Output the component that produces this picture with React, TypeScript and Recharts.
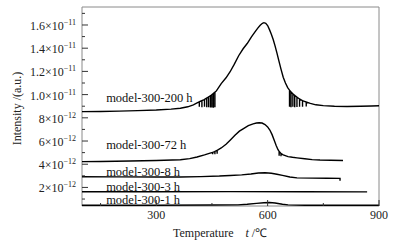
import React from "react";
import { LineChart, Line, XAxis, YAxis, ReferenceDot, ReferenceArea } from "recharts";

// temperature (°C) and intensity (×1e-12 a.u.)
const t200 = [100, 150, 200, 250, 300, 340, 365, 385, 400, 410,
  416, 416, 416, 423, 423, 423, 430, 430, 430, 436, 436, 436, 441, 441, 441, 446, 446, 446, 450, 450, 450, 454, 454, 454, 458, 458, 458,
  462, 475, 488, 499, 510, 522, 534, 545, 556, 566, 574, 580, 586, 590, 595, 600, 605, 610, 615, 620, 625, 630, 636, 642, 648, 654,
  659, 659, 659, 663, 663, 663, 668, 668, 668, 673, 673, 673, 679, 679, 679, 686, 686, 686, 694, 694, 694, 704, 704, 704,
  715, 730, 750, 780, 814, 850, 880, 900];
const i200 = [8.53, 8.55, 8.58, 8.62, 8.67, 8.75, 8.83, 8.95, 9.12, 9.28,
  9.38, 8.95, 9.38, 9.48, 8.92, 9.48, 9.58, 8.95, 9.58, 9.7, 8.9, 9.7, 9.8, 8.9, 9.8, 9.9, 8.88, 9.9, 10.0, 8.88, 10.0, 10.1, 8.86, 10.1, 10.2, 8.9, 10.2,
  10.32, 10.95, 11.45, 11.97, 12.6, 13.35, 13.95, 14.4, 14.95, 15.4, 15.75, 15.98, 16.15, 16.2, 16.15, 15.95, 15.6, 15.2, 14.75, 14.2, 13.6, 12.95, 12.2, 11.5, 11.0, 10.6,
  10.38, 8.95, 10.38, 10.22, 8.92, 10.22, 10.06, 8.95, 10.06, 9.93, 8.92, 9.93, 9.78, 8.94, 9.78, 9.62, 8.95, 9.62, 9.48, 8.96, 9.48, 9.36, 8.98, 9.36,
  9.24, 9.12, 9.05, 9.0, 8.98, 9.0, 9.02, 9.04];

const t72 = [100, 150, 230, 300, 365, 390, 410, 430, 445, 452, 452, 452, 458, 458, 458, 464, 464, 464, 475, 488, 499, 512, 524, 534, 548, 561, 570, 577,
  585, 593, 600, 606, 612, 618, 623, 628, 631, 631, 631, 636, 636, 636, 642, 655, 667, 679, 700, 720, 741, 770, 803];
const i72 = [4.22, 4.24, 4.28, 4.32, 4.38, 4.48, 4.62, 4.8, 4.95, 5.02, 4.86, 5.02, 5.1, 4.87, 5.1, 5.2, 4.9, 5.2, 5.4, 5.72, 6.07, 6.5, 6.85, 7.05, 7.32, 7.48, 7.55, 7.58,
  7.55, 7.42, 7.22, 6.95, 6.55, 6.05, 5.62, 5.25, 5.1, 4.72, 5.1, 4.92, 4.68, 4.92, 4.8, 4.66, 4.6, 4.55, 4.47, 4.4, 4.36, 4.34, 4.32];

const t8 = [100, 200, 300, 365, 420, 470, 499, 530, 555, 575, 593, 610, 625, 640, 660, 679, 720, 760, 795, 795];
const i8 = [2.92, 2.91, 2.9, 2.9, 2.93, 2.98, 3.03, 3.08, 3.16, 3.24, 3.27, 3.22, 3.14, 3.04, 2.9, 2.82, 2.8, 2.79, 2.78, 2.58];

const t3 = [100, 300, 500, 700, 868];
const i3 = [1.63, 1.63, 1.64, 1.63, 1.62];

const t1 = [100, 300, 450, 520, 545, 570, 590, 605, 620, 640, 655, 700, 800, 900];
const i1 = [0.47, 0.47, 0.48, 0.5, 0.55, 0.63, 0.68, 0.7, 0.66, 0.55, 0.5, 0.47, 0.46, 0.47];

const seriesNames = ["model-300-200 h", "model-300-72 h", "model-300-8 h", "model-300-3 h", "model-300-1 h"];
const xTicks = [150, 300, 450, 600, 750, 900];
const xMajor = [300, 600, 900];
const yTicks = [1, 2, 3, 4, 5, 6, 7, 8, 9, 10, 11, 12, 13, 14, 15, 16, 17];

// where each curve's name sits (temperature, intensity)
const labelT = 165;
const labelV = [9.71, 5.66, 3.41, 2.06, 0.97];

const X_DOMAIN = [100, 900];
const Y_DOMAIN = [0.4, 17.55];
const FONT = "'Liberation Serif', 'Times New Roman', serif";
const FRAME = "#8a8a8a";
const TICK = "#333";

const toPts = (t: number[], v: number[]) => t.map((x, i) => ({ t: x, v: v[i] }));
const curves = [toPts(t200, i200), toPts(t72, i72), toPts(t8, i8), toPts(t3, i3), toPts(t1, i1)];

const YTick = (props: any) => {
  const { x, y, payload } = props;
  const v = payload.value;
  const major = v % 2 === 0;
  const mant = v < 10 ? `${v}` : (v / 10).toFixed(1);
  const exp = v < 10 ? "12" : "11";
  return (
    <g>
      <line x1={x + 4} x2={x + 4 + (major ? 6 : 3)} y1={y} y2={y} stroke={TICK} />
      {major && (
        <text x={x - 2} y={y} dy={5} textAnchor="end" fontSize={12} fontFamily={FONT} fill="#222">
          <tspan>{mant}×10</tspan>
          <tspan dy={-5} fontSize={8}>−{exp}</tspan>
        </text>
      )}
    </g>
  );
};

const XTick = (props: any) => {
  const { x, y, payload } = props;
  const major = xMajor.includes(payload.value);
  return (
    <g>
      <line x1={x} x2={x} y1={y - 4} y2={y - 4 - (major ? 6 : 3)} stroke={TICK} />
      {major && (
        <text x={x} y={y} dy={9} textAnchor="middle" fontSize={12} fontFamily={FONT} fill="#222">
          {payload.value}
        </text>
      )}
    </g>
  );
};

const YTitle = (props: any) => {
  const vb = props.viewBox;
  const cx = vb.x + 17;
  const cy = vb.y + vb.height / 2 + 2;
  return (
    <text x={cx} y={cy} transform={`rotate(-90 ${cx} ${cy})`} textAnchor="middle" dominantBaseline="central"
      fontSize={12} fontFamily={FONT} fill="#222">
      Intensity /(a.u.)
    </text>
  );
};

const XTitle = (props: any) => {
  const vb = props.viewBox;
  return (
    <text x={vb.x + 91} y={vb.y + 31} fontSize={12} fontFamily={FONT} fill="#222">
      <tspan>Temperature</tspan>
      <tspan dx={12} fontStyle="italic">t</tspan>
      <tspan> /℃</tspan>
    </text>
  );
};

export default function App() {
  return (
    <div style={{ position: "fixed", left: 0, top: 0, background: "#fff" }}>
      <LineChart width={394} height={246} margin={{ top: 7, right: 15, bottom: 0, left: 0 }}>
        <XAxis dataKey="t" type="number" domain={X_DOMAIN} allowDataOverflow ticks={xTicks} interval={0}
          tick={<XTick />} tickLine={false} tickSize={0} tickMargin={4} height={40}
          axisLine={false} label={{ content: <XTitle /> }} />
        <YAxis type="number" domain={Y_DOMAIN} allowDataOverflow ticks={yTicks} interval={0}
          tick={<YTick />} tickLine={false} tickSize={0} tickMargin={4} width={82}
          axisLine={false} label={{ content: <YTitle /> }} />
        <ReferenceArea x1={X_DOMAIN[0]} x2={X_DOMAIN[1]} y1={Y_DOMAIN[0]} y2={Y_DOMAIN[1]}
          fill="none" fillOpacity={0} stroke={FRAME} strokeWidth={1} ifOverflow="visible" />
        {curves.map((d, i) => (
          <Line key={seriesNames[i]} data={d} dataKey="v" type="linear" stroke="#000" strokeWidth={1.4}
            dot={false} activeDot={false} isAnimationActive={false} />
        ))}
        {seriesNames.map((n, i) => (
          <ReferenceDot key={n} x={labelT} y={labelV[i]} r={0} fill="none" stroke="none"
            label={{ value: n, position: "right", offset: 0, fill: "#111", fontSize: 12.5, fontFamily: FONT }} />
        ))}
      </LineChart>
    </div>
  );
}
